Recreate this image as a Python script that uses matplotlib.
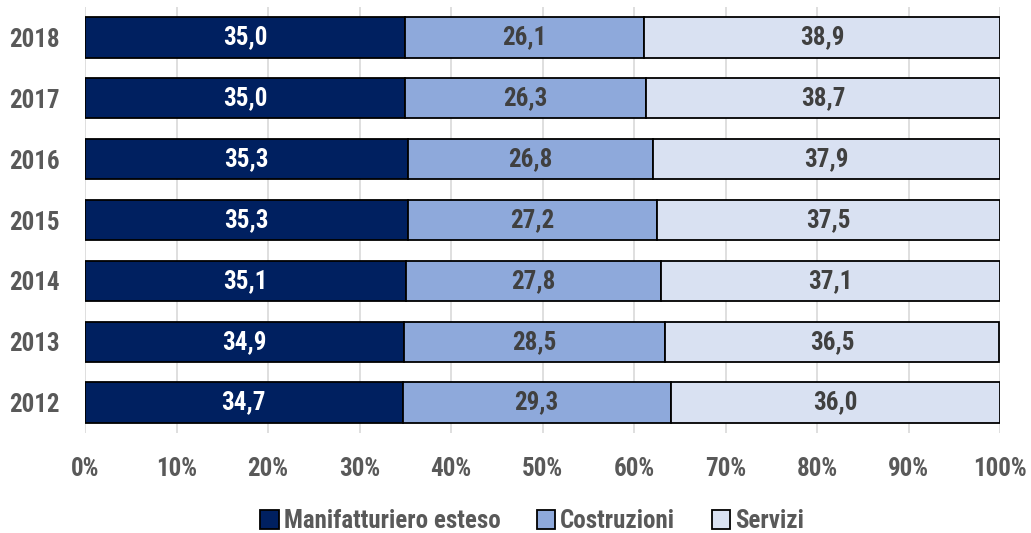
import matplotlib
matplotlib.use("Agg")
import matplotlib.pyplot as plt
from matplotlib import font_manager
from matplotlib.patches import Patch

years = ["2012", "2013", "2014", "2015", "2016", "2017", "2018"]
manifatturiero = [34.7, 34.9, 35.1, 35.3, 35.3, 35.0, 35.0]
costruzioni = [29.3, 28.5, 27.8, 27.2, 26.8, 26.3, 26.1]
servizi = [36.0, 36.5, 37.1, 37.5, 37.9, 38.7, 38.9]
series_names = ["Manifatturiero esteso", "Costruzioni", "Servizi"]
xticks = [0, 10, 20, 30, 40, 50, 60, 70, 80, 90, 100]

names = {f.name for f in font_manager.fontManager.ttflist}
fam = [f for f in ["Liberation Sans Narrow", "Roboto Condensed", "Arial Narrow", "Liberation Sans"] if f in names] + ["DejaVu Sans"]
plt.rcParams['font.family'] = fam

colors = ["#002060", "#8EA9DB", "#D9E1F2"]
txtcol = ["white", "#404040", "#404040"]
gray = "#595959"

fig = plt.figure(figsize=(10.31, 5.33), dpi=100)
ax = fig.add_axes([85/1031, 100/533, 915/1031, 426/533])

y = list(range(len(years)))
left = [0]*len(years)
for vals, c, tc, name in zip([manifatturiero, costruzioni, servizi], colors, txtcol, series_names):
    bars = ax.barh(y, vals, left=left, height=0.66, color=c, edgecolor="black", linewidth=1.3, label=name, zorder=3)
    for b, v in zip(bars, vals):
        ax.text(b.get_x() + b.get_width()/2, b.get_y() + b.get_height()/2, f"{v:.1f}".replace(".", ","),
                ha="center", va="center", color=tc, fontsize=18, fontweight="bold", zorder=4)
    left = [l + v for l, v in zip(left, vals)]

ax.set_xlim(0, 100)
ax.set_ylim(-0.5, 6.5)
ax.set_yticks(y)
ax.set_yticklabels(years)
ax.set_xticks(xticks)
ax.set_xticklabels([f"{t}%" for t in xticks])
for lab in ax.get_xticklabels() + ax.get_yticklabels():
    lab.set_fontsize(18)
    lab.set_fontweight("bold")
    lab.set_color(gray)
ax.tick_params(axis="both", length=0)
ax.tick_params(axis="x", pad=17)
ax.tick_params(axis="y", pad=18.5)
ax.grid(axis="x", color="#D9D9D9", linewidth=1.2, zorder=0)
for s in ax.spines.values():
    s.set_visible(False)

handles = [Patch(facecolor=c, edgecolor="black", linewidth=1.3) for c in colors]
fig.legend(handles, series_names, loc="center", bbox_to_anchor=(0.516, 0.022), ncol=3, frameon=False,
           prop={"size": 18, "weight": "bold"}, labelcolor=gray, handlelength=0.75, handleheight=0.75,
           handletextpad=0.2, columnspacing=1.45, borderaxespad=0)

fig.savefig("out.png", dpi=100)
